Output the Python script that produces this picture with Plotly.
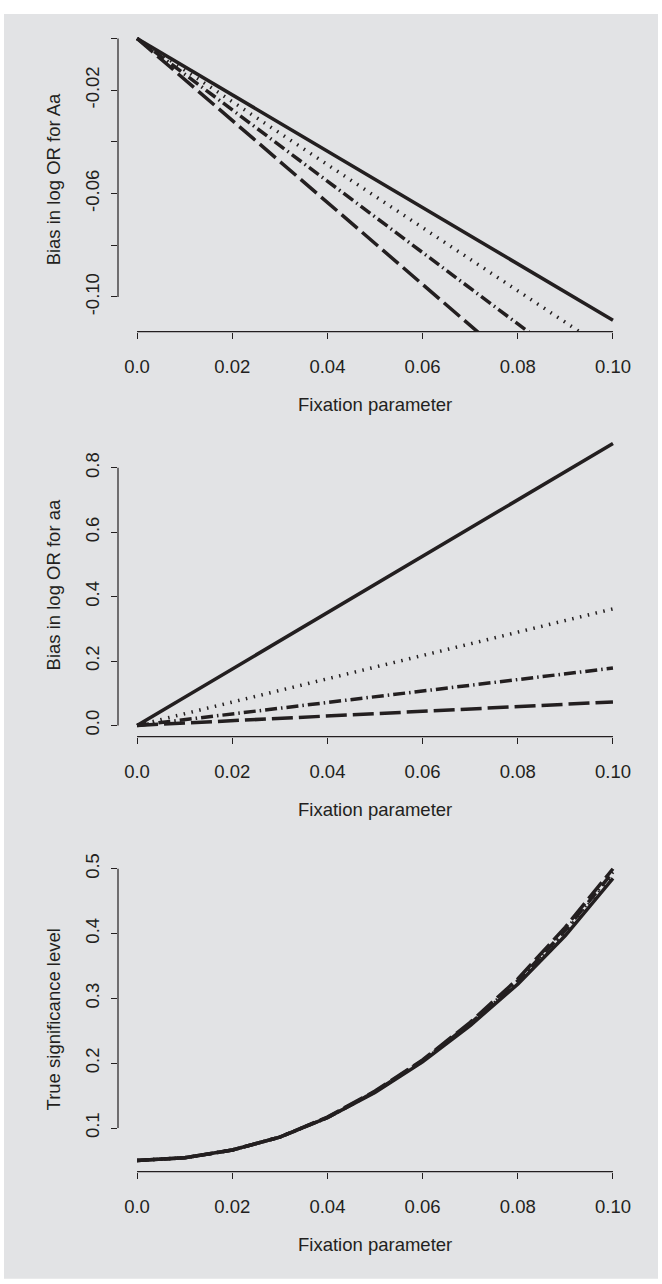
import plotly.graph_objects as go

# ---------------- data ----------------
fixation = [0.00, 0.01, 0.02, 0.03, 0.04, 0.05, 0.06, 0.07, 0.08, 0.09, 0.10]

# Panel 1: bias in log OR for Aa
aa1_solid   = [0, -0.0109, -0.0218, -0.0327, -0.0436, -0.0545, -0.0654, -0.0763, -0.0872, -0.0981, -0.109]
aa1_dotted  = [0, -0.0122, -0.0244, -0.0366, -0.0488, -0.0610, -0.0732, -0.0854, -0.0976, -0.1098, -0.122]
aa1_dotdash = [0, -0.0138, -0.0276, -0.0414, -0.0552, -0.0690, -0.0828, -0.0966, -0.1104, -0.1242, -0.138]
aa1_dashed  = [0, -0.0159, -0.0317, -0.0476, -0.0634, -0.0793, -0.0951, -0.1110, -0.1268, -0.1427, -0.1585]

# Panel 2: bias in log OR for aa
aa2_solid   = [0, 0.0876, 0.1752, 0.2628, 0.3504, 0.4380, 0.5256, 0.6132, 0.7008, 0.7884, 0.876]
aa2_dotted  = [0, 0.0362, 0.0724, 0.1086, 0.1448, 0.1810, 0.2172, 0.2534, 0.2896, 0.3258, 0.362]
aa2_dotdash = [0, 0.0178, 0.0356, 0.0534, 0.0712, 0.0890, 0.1068, 0.1246, 0.1424, 0.1602, 0.178]
aa2_dashed  = [0, 0.0073, 0.0146, 0.0219, 0.0292, 0.0365, 0.0438, 0.0511, 0.0584, 0.0657, 0.073]

# Panel 3: true significance level
sig_solid   = [0.050, 0.054, 0.066, 0.086, 0.116, 0.155, 0.202, 0.258, 0.322, 0.397, 0.485]
sig_dotted  = [0.050, 0.054, 0.066, 0.086, 0.116, 0.156, 0.203, 0.260, 0.325, 0.402, 0.490]
sig_dotdash = [0.050, 0.054, 0.066, 0.086, 0.116, 0.156, 0.204, 0.261, 0.327, 0.405, 0.495]
sig_dashed  = [0.050, 0.054, 0.066, 0.086, 0.117, 0.157, 0.205, 0.263, 0.330, 0.410, 0.500]

x_ticks = [0, 0.02, 0.04, 0.06, 0.08, 0.10]
x_ticktext = ["0.0", "0.02", "0.04", "0.06", "0.08", "0.10"]
y1_ticks = [0, -0.02, -0.04, -0.06, -0.08, -0.10]
y1_ticktext = ["", "-0.02", "", "-0.06", "", "-0.10"]
y2_ticks = [0, 0.2, 0.4, 0.6, 0.8]
y2_ticktext = ["0.0", "0.2", "0.4", "0.6", "0.8"]
y3_ticks = [0.1, 0.2, 0.3, 0.4, 0.5]
y3_ticktext = ["0.1", "0.2", "0.3", "0.4", "0.5"]

x_title = "Fixation parameter"
y_titles = ["Bias in log OR for Aa", "Bias in log OR for aa", "True significance level"]

# ---------------- style ----------------
W, H = 662, 1284
INK = "#231f20"
BG = "#e2e3e5"
FONT = "Liberation Sans, Arial, Helvetica, sans-serif"
FS = 18.5
LW = 3.5
styles = {
    "solid":   dict(color=INK, width=LW, dash="solid"),
    "dotted":  dict(color=INK, width=LW, dash="1.5px,6.5px"),
    "dotdash": dict(color=INK, width=LW, dash="12px,4px,1.5px,4px"),
    "dashed":  dict(color=INK, width=LW, dash="21px,6px"),
}


def vpos(target_px):
    # compensate for the vertical offset/scale observed in the capture
    return (target_px - 14.4) / 0.989


px_left, px_right = 118, 632
panels_target = [(27.5, 332), (432.5, 737), (867.5, 1172)]
y_ranges = [[-0.1134, 0.0044], [-0.035, 0.911], [0.0326, 0.5024]]
x_range = [-0.004, 0.104]

series = [
    [aa1_solid, aa1_dotted, aa1_dotdash, aa1_dashed],
    [aa2_solid, aa2_dotted, aa2_dotdash, aa2_dashed],
    [sig_solid, sig_dotted, sig_dotdash, sig_dashed],
]
yticks = [(y1_ticks, y1_ticktext), (y2_ticks, y2_ticktext), (y3_ticks, y3_ticktext)]

fig = go.Figure()
layout = dict(
    width=W, height=H, autosize=False,
    margin=dict(l=0, r=0, t=0, b=0),
    paper_bgcolor="white", plot_bgcolor="rgba(0,0,0,0)",
    showlegend=False,
    font=dict(family=FONT, size=FS, color=INK),
)
grey_top = max(vpos(6), 0)
grey_bot = vpos(1279)
shapes = [dict(type="rect", xref="paper", yref="paper",
               x0=4 / W, x1=658 / W, y0=1 - grey_bot / H, y1=1 - grey_top / H,
               fillcolor=BG, line=dict(width=0), layer="below")]
annotations = []

for i in range(3):
    n = "" if i == 0 else str(i + 1)
    xa, ya = "x" + n, "y" + n
    top, bot = vpos(panels_target[i][0]), vpos(panels_target[i][1])
    for vals, key in zip(series[i], ["solid", "dotted", "dotdash", "dashed"]):
        fig.add_trace(go.Scatter(x=fixation, y=vals, mode="lines",
                                 line=styles[key], xaxis=xa, yaxis=ya,
                                 hoverinfo="skip"))
    axis_common = dict(showgrid=False, zeroline=False, showline=False,
                       ticks="outside", ticklen=6, tickwidth=1, tickcolor=INK,
                       tickfont=dict(family=FONT, size=FS, color=INK))
    layout["xaxis" + n] = dict(axis_common, domain=[px_left / W, px_right / W],
                               range=x_range, tickvals=x_ticks, ticktext=x_ticktext,
                               anchor=ya, ticklabelstandoff=12)
    tv, tt = yticks[i]
    layout["yaxis" + n] = dict(axis_common, domain=[1 - bot / H, 1 - top / H],
                               range=y_ranges[i], tickvals=tv, ticktext=tt,
                               anchor=xa, tickangle=-90, ticklabelstandoff=5)
    # R-style axis lines spanning only the tick range
    shapes.append(dict(type="line", xref=xa, yref=ya + " domain",
                       x0=x_ticks[0], x1=x_ticks[-1], y0=0, y1=0,
                       line=dict(color=INK, width=1.2)))
    shapes.append(dict(type="line", xref=xa + " domain", yref=ya,
                       x0=0, x1=0, y0=min(tv), y1=max(tv),
                       line=dict(color=INK, width=1.2)))
    annotations.append(dict(text=x_title, xref=xa + " domain", yref=ya + " domain",
                            x=0.5, y=0, yshift=-73, xanchor="center", yanchor="middle",
                            showarrow=False, font=dict(family=FONT, size=FS, color=INK)))
    annotations.append(dict(text=y_titles[i], xref=xa + " domain", yref=ya + " domain",
                            x=0, y=0.5, xshift=-65, xanchor="center", yanchor="middle",
                            textangle=-90, showarrow=False,
                            font=dict(family=FONT, size=FS, color=INK)))

layout["shapes"] = shapes
layout["annotations"] = annotations
fig.update_layout(**layout)
fig.write_html(
    "out.html",
    config={"displayModeBar": False, "staticPlot": True},
    post_script=(
        "document.documentElement.style.overflow='hidden';"
        "document.body.style.margin='0';document.body.style.overflow='hidden';"
        "var g=document.getElementById('{plot_id}');"
        "g.style.position='absolute';g.style.top='0px';g.style.left='0px';"
    ),
)
